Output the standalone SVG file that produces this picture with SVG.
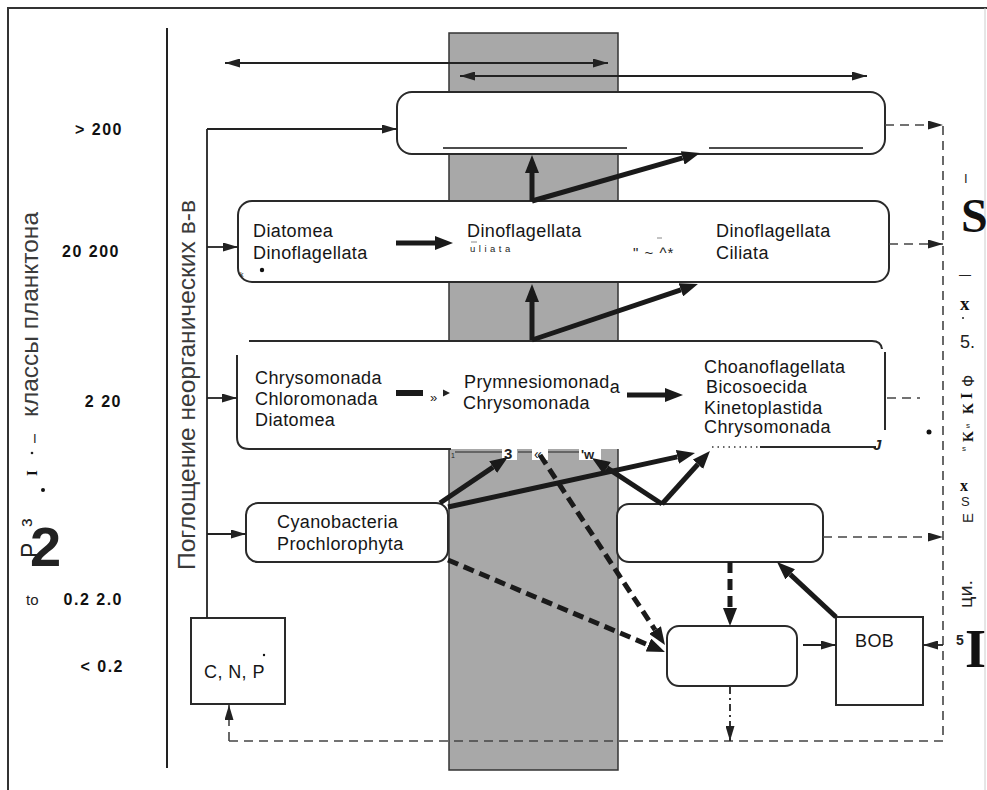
<svg xmlns="http://www.w3.org/2000/svg" width="987" height="790" viewBox="0 0 987 790">
<style>
.t{font-family:"Liberation Sans",Arial,sans-serif;font-size:18px;fill:#161616;letter-spacing:0.4px}
.lb{font-family:"Liberation Sans",Arial,sans-serif;font-weight:bold;font-size:16px;letter-spacing:1.5px;text-anchor:end;fill:#111}
.rot{font-family:"Liberation Sans",Arial,sans-serif;font-size:24px;fill:#3a3a3a}
.sm{font-family:"Liberation Sans",Arial,sans-serif;fill:#222}
.sf{font-family:"Liberation Serif","Times New Roman",serif;font-weight:bold;fill:#111}
.box{fill:#fff;stroke:#2a2a2a;stroke-width:2}
.ln{fill:none;stroke:#2a2a2a;stroke-width:2}
.thin{fill:none;stroke:#222;stroke-width:1.8}
.dash{fill:none;stroke:#444;stroke-width:1.6;stroke-dasharray:9 6}
.thick{fill:none;stroke:#1a1a1a;stroke-width:5}
.thickd{fill:none;stroke:#1a1a1a;stroke-width:5;stroke-dasharray:11 6}
</style>
<defs>
<marker id="ta" viewBox="0 0 15 9" refX="15" refY="4.5" markerWidth="15" markerHeight="9" markerUnits="userSpaceOnUse" orient="auto-start-reverse"><path d="M0,0 L15,4.5 L0,9 z" fill="#222"/></marker>
<marker id="tb" viewBox="0 0 18 14" refX="0" refY="7" markerWidth="18" markerHeight="14" markerUnits="userSpaceOnUse" orient="auto"><path d="M0,0 L18,7 L0,14 z" fill="#1a1a1a"/></marker>
</defs>
<rect width="987" height="790" fill="#fff"/>
<g id="frame">
<path d="M8,790 V8 H987" fill="none" stroke="#333" stroke-width="2"/>
<line x1="985" y1="8" x2="985" y2="790" stroke="#ccc" stroke-width="1"/>
<line x1="167" y1="28" x2="167" y2="768" stroke="#222" stroke-width="2"/>
<rect id="band" x="449" y="33" width="169" height="737" fill="#a8a8a8" stroke="#333" stroke-width="1.5"/>
</g>
<g id="labels">
<text class="rot" transform="translate(38,417) rotate(-90)" textLength="205" lengthAdjust="spacingAndGlyphs">классы планктона</text>
<text class="rot" transform="translate(195,570) rotate(-90)" textLength="370" lengthAdjust="spacingAndGlyphs">Поглощение неорганических в-в</text>
<text class="lb" x="123" y="135">&gt; 200</text>
<text class="lb" x="120" y="257">20 200</text>
<text class="lb" x="122" y="407">2 20</text>
<text class="lb" x="123" y="605">0.2 2.0</text>
<text class="lb" x="124" y="672">&lt; 0.2</text>
<text class="sm" x="26" y="605" font-size="15">to</text>
<text class="sm" x="33" y="443" font-size="13">I</text>
<circle cx="32" cy="453" r="1.3" fill="#222"/>
<text class="sf" transform="translate(37,476) rotate(-90)" font-size="15">I</text>
<circle cx="43" cy="490" r="2" fill="#111"/>
<text class="sm" transform="translate(32,527) rotate(-90)" font-size="19" fill="#333">з</text>
<text class="sm" transform="translate(38,558) rotate(-90)" font-size="23" fill="#333">Р</text>
<text class="sm" x="30" y="566" font-size="56" font-weight="bold" fill="#000">2</text>
</g>
<g id="right-labels">
<text class="sm" x="964" y="183" font-size="13">I</text>
<text class="sf" x="961" y="232" font-size="48">S</text>
<text class="sm" x="959" y="279" font-size="12">—</text>
<text class="sf" x="960" y="310" font-size="19">x</text>
<circle cx="963" cy="318" r="1" fill="#222"/>
<text class="sm" x="960" y="348" font-size="18">5.</text>
<text class="sm" transform="translate(974,387) rotate(-90)" font-size="16">Ф</text>
<text class="sf" transform="translate(972,399) rotate(-90)" font-size="16">I</text>
<text class="sf" transform="translate(973,414) rotate(-90)" font-size="14">K</text>
<text class="sm" x="966" y="428" font-size="8">s</text>
<text class="sf" transform="translate(973,442) rotate(-90)" font-size="14">K</text>
<text class="sm" x="962" y="451" font-size="8">s</text>
<circle cx="929" cy="432" r="2.5" fill="#111"/>
<text class="sf" x="960" y="491" font-size="16">x</text>
<text class="sm" x="961" y="506" font-size="13">S</text>
<text class="sm" transform="translate(973,523) rotate(-90)" font-size="15">Е</text>
<text class="sm" transform="translate(972,608) rotate(-90)" font-size="18" textLength="28" lengthAdjust="spacingAndGlyphs">ци.</text>
<text class="sm" x="956" y="645" font-size="14" font-weight="bold">5</text>
<text class="sf" x="965" y="667" font-size="54">I</text>
</g>
<g id="node-top">
<rect class="box" x="397" y="92" width="488" height="62" rx="15"/>
<line x1="443" y1="148" x2="627" y2="148" stroke="#111" stroke-width="1.5"/>
<line x1="709" y1="148" x2="863" y2="148" stroke="#111" stroke-width="1.5"/>
</g>
<g id="node-row20">
<rect class="box" x="238" y="201" width="651" height="81" rx="14"/>
<text class="t" x="253" y="237">Diatomea</text>
<text class="t" x="253" y="259">Dinoflagellata</text>
<circle cx="262" cy="270" r="2.2" fill="#111"/>
<text class="sm" x="240" y="277" font-size="7">k</text>
<text class="t" x="467" y="237">Dinoflagellata</text>
<line x1="471" y1="242" x2="477" y2="242" stroke="#888" stroke-width="1"/>
<text class="sm" x="470" y="252" font-size="9.5" letter-spacing="3.5">uliata</text>
<line x1="657" y1="238" x2="662" y2="238" stroke="#888" stroke-width="1"/>
<text class="sm" x="633" y="258" font-size="15" letter-spacing="1">" ~ ^*</text>
<text class="t" x="716" y="237">Dinoflagellata</text>
<text class="t" x="716" y="259">Ciliata</text>
</g>
<g id="node-row2">
<rect x="237" y="341" width="648" height="108" fill="#fff"/>
<path class="ln" d="M249,341 H872 Q881,341 882,349"/>
<path class="ln" d="M885,352 V430"/>
<path class="ln" d="M237,355 V437 Q237,449 249,449 H451"/>
<path d="M455,452 H505 M518,452 H534 M547,452 H579" fill="none" stroke="#222" stroke-width="1.2"/>
<rect x="502" y="444" width="15" height="16" fill="#fff"/>
<rect x="532" y="444" width="16" height="16" fill="#fff"/>
<rect x="579" y="444" width="22" height="16" fill="#fff"/>
<text class="sm" x="451" y="458" font-size="7">1</text>
<text class="sm" x="504" y="459" font-size="15" font-weight="bold">3</text>
<text class="sm" x="534" y="459" font-size="14">«</text>
<text class="sm" x="581" y="459" font-size="13" font-weight="bold">'w</text>
<path d="M712,447 H760" fill="none" stroke="#333" stroke-width="1.3" stroke-dasharray="1.5 4"/>
<path d="M760,447 H876" fill="none" stroke="#2a2a2a" stroke-width="2"/>
<text class="sm" x="873" y="450" font-size="15" font-weight="bold" font-style="italic">J</text>
<text class="t" x="255" y="384">Chrysomonada</text>
<text class="t" x="255" y="405">Chloromonada</text>
<text class="t" x="255" y="426">Diatomea</text>
<line x1="396" y1="393" x2="423" y2="393" stroke="#1a1a1a" stroke-width="6"/>
<text class="sm" x="430" y="402" font-size="13">»</text>
<polygon points="443,389.5 450,393 443,396.5" fill="#222"/>
<text class="t" x="464" y="388">Prymnesiomonad<tspan dy="5">a</tspan></text>
<text class="t" x="463" y="409">Chrysomonada</text>
<text class="t" x="704" y="373">Choanoflagellata</text>
<text class="t" x="706" y="393">Bicosoecida</text>
<text class="t" x="704" y="414">Kinetoplastida</text>
<text class="t" x="704" y="433">Chrysomonada</text>
</g>
<g id="node-cyano">
<rect class="box" x="246" y="503" width="202" height="59" rx="12"/>
<text class="t" x="277" y="528">Cyanobacteria</text>
<text class="t" x="277" y="550">Prochlorophyta</text>
</g>
<g id="node-bact">
<rect class="box" x="617" y="504" width="206" height="58" rx="12"/>
</g>
<g id="node-lower">
<rect class="box" x="667" y="626" width="130" height="60" rx="12"/>
</g>
<g id="node-bob">
<rect class="box" x="836" y="617" width="87" height="88"/>
<text class="t" x="855" y="647">BOB</text>
</g>
<g id="node-cnp">
<rect class="box" x="191" y="618" width="94" height="86"/>
<text class="t" x="204" y="678" letter-spacing="1">C, N, P</text>
<circle cx="264" cy="655" r="1.2" fill="#111"/>
</g>
<g id="connectors">
<path class="thin" d="M225,63 H608" stroke-width="2.2" marker-start="url(#ta)" marker-end="url(#ta)"/>
<path class="thin" d="M460,76 H867" stroke-width="2.2" marker-start="url(#ta)" marker-end="url(#ta)"/>
<path class="thin" d="M207,618 V129"/>
<path class="thin" d="M207,129 H397" marker-end="url(#ta)"/>
<path class="thin" d="M207,247 H238" marker-end="url(#ta)"/>
<path class="thin" d="M207,398 H237" marker-end="url(#ta)"/>
<path class="thin" d="M207,534 H246" marker-end="url(#ta)"/>
<path class="dash" d="M229,741 H943 V125"/>
<path class="dash" d="M229,741 V705" marker-end="url(#ta)"/>
<path class="dash" d="M885,125 H943" marker-end="url(#ta)"/>
<path class="dash" d="M889,244 H943" marker-end="url(#ta)"/>
<path class="dash" d="M823,537 H943" marker-end="url(#ta)"/>
<path class="dash" d="M887,398 H920"/>
<path class="thin" d="M730,687 V741" stroke-dasharray="7 4 2 4" stroke-width="1.5" marker-end="url(#ta)"/>
<path class="thin" d="M803,645 H836" stroke-width="1.5" marker-end="url(#ta)"/>
<path class="thin" d="M943,645 H923" stroke-width="1.5" marker-end="url(#ta)"/>
<path class="thick" d="M532,201 V173" marker-end="url(#tb)"/>
<path class="thick" d="M532,201 L682.7,157.9" marker-end="url(#tb)"/>
<path class="thick" d="M532,340 V302" marker-end="url(#tb)"/>
<path class="thick" d="M532,340 L680.9,289.8" marker-end="url(#tb)"/>
<path class="thick" d="M396,243 H435" stroke-width="7" marker-end="url(#tb)"/>
<path class="thick" d="M627,395 H665" stroke-width="6" marker-end="url(#tb)"/>
<path class="thick" d="M440,503 L493.1,467.1" marker-end="url(#tb)"/>
<path class="thick" d="M448,507 L677.4,456.9" marker-end="url(#tb)"/>
<path class="thick" d="M662,504 L697.9,464.3" marker-end="url(#tb)"/>
<path class="thick" d="M662,504 L607,467.9" marker-end="url(#tb)"/>
<path class="thick" d="M836,617 L790.2,574.3" marker-end="url(#tb)"/>
<path class="thickd" d="M730,562 V608" marker-end="url(#tb)"/>
<path class="thickd" d="M540,455 L655.1,630" marker-end="url(#tb)"/>
<path class="thickd" d="M448,560 L648.4,645" marker-end="url(#tb)"/>
</g>
</svg>
